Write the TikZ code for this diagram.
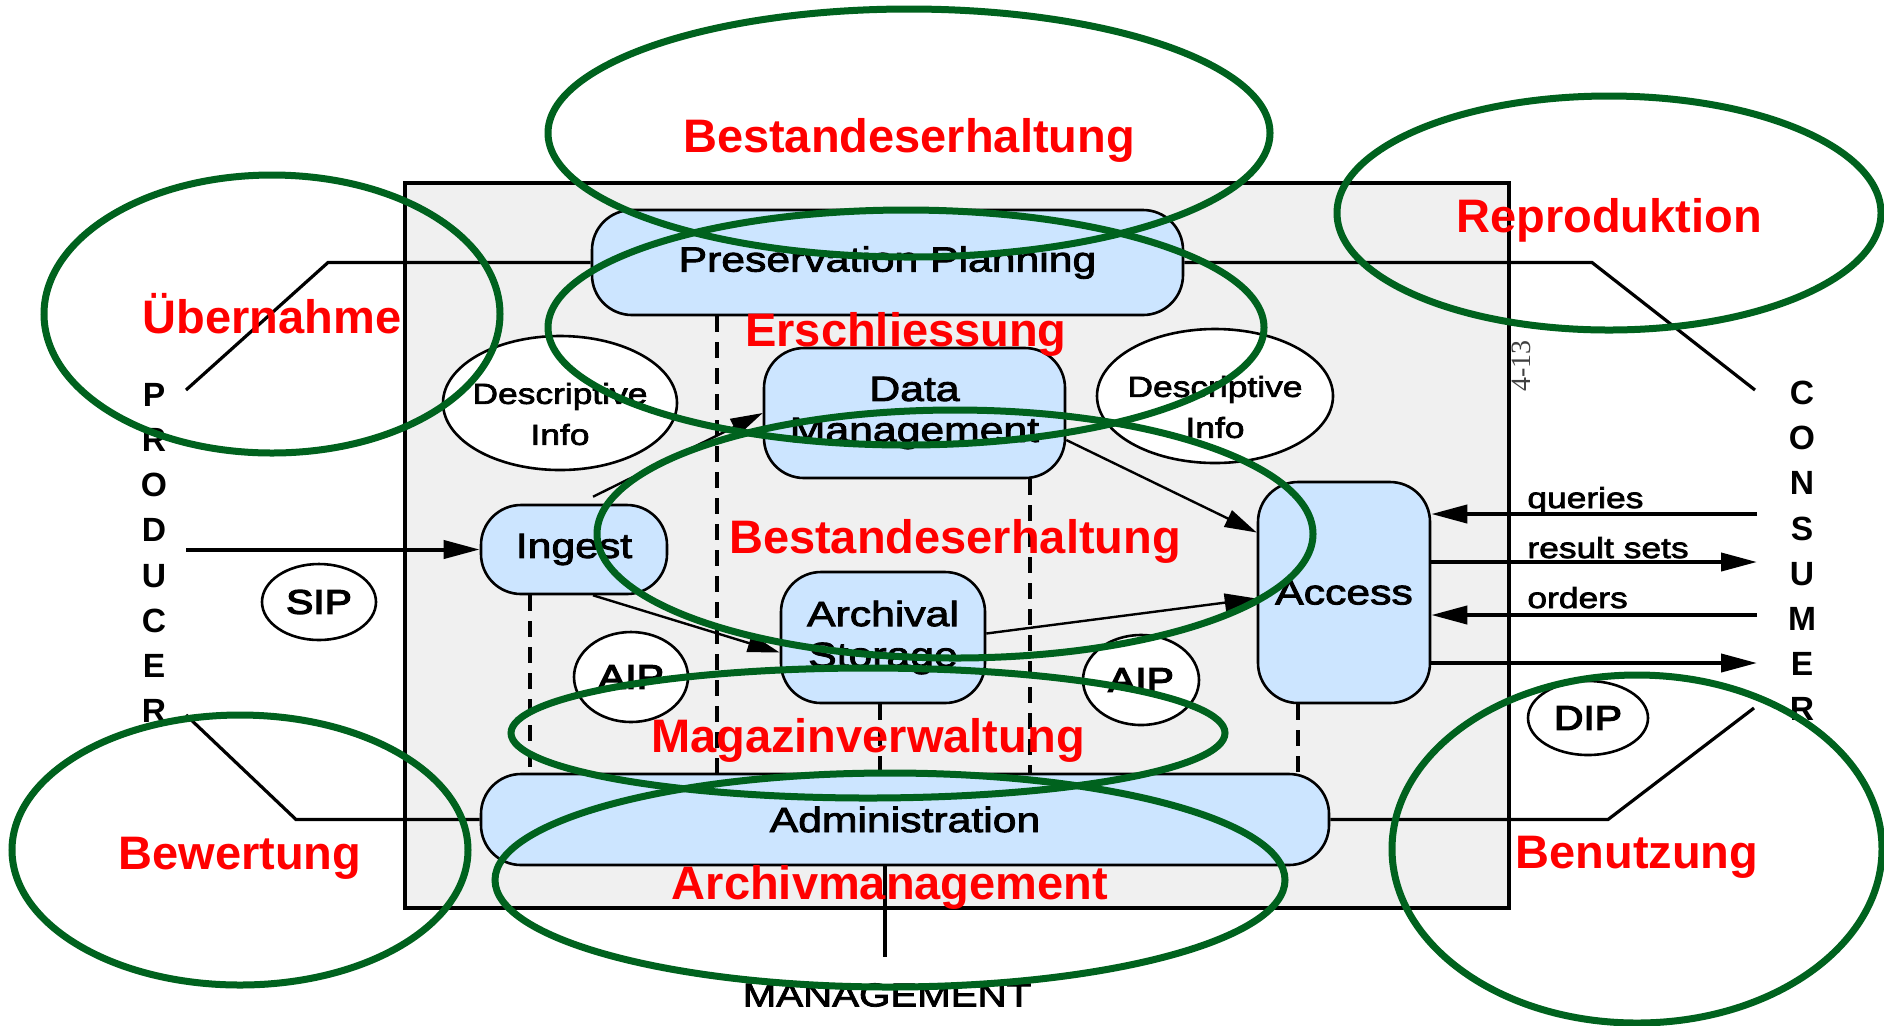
\documentclass[tikz,border=0pt]{standalone}
\usepackage{fontspec}
\setmainfont{Liberation Sans}
\newfontfamily\oaisfont[FakeStretch=1.22,FakeBold=2.5]{Liberation Sans}
\newfontfamily\pkgfont[FakeStretch=1.2,FakeBold=4]{Liberation Sans}
\newfontfamily\serfont{Liberation Serif}
\usepackage{tikz}
\usetikzlibrary{arrows.meta,shapes.geometric}

\definecolor{boxblue}{RGB}{204,229,255}
\definecolor{bggray}{RGB}{240,240,240}
\definecolor{markgreen}{RGB}{0,98,30}
\definecolor{markred}{RGB}{255,0,0}

\begin{document}
\begin{tikzpicture}[x=0.5pt,y=-0.5pt,
  func/.style={rectangle, rounded corners=20pt, draw, line width=1.3pt, fill=boxblue, align=center, inner sep=0pt,
    font=\oaisfont\fontsize{17.5}{20.5}\selectfont},
  info/.style={ellipse, draw, line width=1.3pt, fill=white, inner sep=0pt},
  infotxt/.style={align=center, inner sep=0pt, font=\oaisfont\fontsize{14.5}{20.5}\selectfont},
  pkg/.style={ellipse, draw, line width=1.3pt, fill=white, inner sep=0pt, font=\pkgfont\fontsize{17}{20}\selectfont},
  actor/.style={align=center, inner sep=0pt, font=\bfseries\fontsize{16.8}{22.6}\selectfont},
  lbl/.style={inner sep=0pt, font=\oaisfont\fontsize{14.5}{17}\selectfont},
  link/.style={line width=1.6pt},
  flow/.style={line width=1.2pt, -{Triangle[length=16pt,width=9pt]}},
  ext/.style={line width=2pt, -{Triangle[length=18pt,width=9pt]}},
  iface/.style={line width=1.8pt, dash pattern=on 8pt off 5pt},
  topic/.style={ellipse, draw=markgreen, line width=3.5pt, text=markred, inner sep=0pt,
    text height=19pt, text depth=0pt, font=\bfseries\fontsize{23.5}{26}\selectfont}]
\useasboundingbox (0,0) rectangle (1884,1025);
\fill[white] (0,0) rectangle (1884,1025);

\node[draw, line width=2.2pt, fill=bggray, minimum width=552pt, minimum height=362.5pt, inner sep=0pt] (oais) at (957,545.5) {};

\node[func, minimum width=295.5pt, minimum height=52.5pt] (pp) at (887.5,262.5) {Preservation Planning};
\node[func, minimum width=150.5pt, minimum height=65pt] (dm) at (914.5,413) {Data\\Management};
\node[func, minimum width=93pt, minimum height=44.5pt] (ingest) at (574,549.5) {Ingest};
\node[func, minimum width=102pt, minimum height=65.5pt] (store) at (883,637.5) {Archival\\Storage};
\node[func, minimum width=86pt, minimum height=110.5pt] (access) at (1344,592.5) {Access};
\node[func, minimum width=424pt, minimum height=45.5pt] (admin) at (905,819.5) {Administration};

\node[info, minimum width=117pt, minimum height=67pt] (desc1) at (560,403) {};
\node[infotxt] (desc1t) at ([yshift=-5.5pt]desc1.center) {Descriptive\\Info};
\node[info, minimum width=118pt, minimum height=67pt] (desc2) at (1215,396) {};
\node[infotxt] (desc2t) at ([yshift=-5.5pt]desc2.center) {Descriptive\\Info};

\node[pkg, minimum width=57pt, minimum height=38pt] (sip) at (319,602) {SIP};
\node[pkg, minimum width=57pt, minimum height=45pt] (aip1) at (631,677) {AIP};
\node[pkg, minimum width=58pt, minimum height=45pt] (aip2) at (1141,680) {AIP};
\node[pkg, minimum width=60pt, minimum height=37pt] (dip) at (1588,718) {DIP};

\node[actor] (producer) at (154,553) {P\\R\\O\\D\\U\\C\\E\\R};
\node[actor] (consumer) at (1802,551) {C\\O\\N\\S\\U\\M\\E\\R};
\node[inner sep=0pt, font=\oaisfont\fontsize{16.5}{18}\selectfont] (mgmt) at (887,995) {MANAGEMENT};
\node[inner sep=0pt, rotate=90, text=black!75, font=\serfont\fontsize{14}{16}\selectfont] (pagenr) at (1521,366) {4-13};

\coordinate (pr1) at (186,390);
\coordinate (pr2) at (328,262.5);
\coordinate (pr3) at (186,549.5);
\coordinate (pr4) at (186,715);
\coordinate (pr5) at (296,819.5);
\coordinate (cs1) at (1755,390);
\coordinate (cs2) at (1592,262.5);
\coordinate (cs3) at (1754,708);
\coordinate (cs4) at (1608,819.5);
\coordinate (q1) at (1757,514);
\coordinate (q2) at (1757,562);
\coordinate (q3) at (1757,615);
\coordinate (q4) at (1757,663);
\coordinate (mg) at (885,957);
\foreach \nm/\x in {d1/530,d2/717,d3/880,d4/1030,d5/1298}
  \coordinate (\nm) at (\x,0);

\draw[link] (pr1) -- (pr2) -- (pp.west);
\draw[link] (pp.east) -- (cs2) -- (cs1);
\draw[link] (pr4) -- (pr5) -- (admin.west);
\draw[link] (admin.east) -- (cs4) -- (cs3);
\draw[link] (admin.south -| mg) -- (mg);

\draw[iface] (ingest.south -| d1) -- (admin.north -| d1);
\draw[iface] (pp.south -| d2) -- (admin.north -| d2);
\draw[iface] (store.south -| d3) -- (admin.north -| d3);
\draw[iface] (dm.south -| d4) -- (admin.north -| d4);
\draw[iface] (access.south -| d5) -- (admin.north -| d5);

\draw[ext] (pr3) -- (ingest.west);
\draw[ext] (q1) -- (access.east |- q1);
\draw[ext] (access.east |- q2) -- (q2);
\draw[ext] (q3) -- (access.east |- q3);
\draw[ext] (access.east |- q4) -- (q4);

\draw[flow] ([xshift=9.5pt,yshift=3.5pt]ingest.north) -- (dm.west);
\draw[flow] ([xshift=9.5pt]ingest.south) -- ([yshift=-7.5pt]store.west);
\draw[flow] ([yshift=-13.5pt]dm.east) -- ([yshift=30pt]access.west);
\draw[flow] ([yshift=2pt]store.east) -- ([yshift=-3pt]access.west);

\node[lbl, anchor=base west] (lq) at (1527,508) {queries};
\node[lbl, anchor=base west] (lr) at (1527,558) {result sets};
\node[lbl, anchor=base west] (lo) at (1527,608) {orders};

\node[topic, minimum width=361pt, minimum height=124pt] (t1) at (909,133) {Bestandeserhaltung};
\node[topic, minimum width=358pt, minimum height=117.5pt] (t2) at (906,327.5) {Erschliessung};
\node[topic, minimum width=358pt, minimum height=124pt] (t3) at (955,534) {Bestandeserhaltung};
\node[topic, minimum width=357pt, minimum height=65pt] (t4) at (868,733) {Magazinverwaltung};
\node[topic, minimum width=395pt, minimum height=107pt] (t5) at (890,880) {Archivmanagement};
\node[topic, minimum width=228pt, minimum height=139pt] (t6) at (272,314) {Übernahme};
\node[topic, minimum width=228pt, minimum height=135pt] (t7) at (240,850) {Bewertung};
\node[topic, minimum width=272pt, minimum height=117pt] (t8) at (1609,213) {Reproduktion};
\node[topic, minimum width=245pt, minimum height=174pt] (t9) at (1637,849) {Benutzung};
\end{tikzpicture}
\end{document}
